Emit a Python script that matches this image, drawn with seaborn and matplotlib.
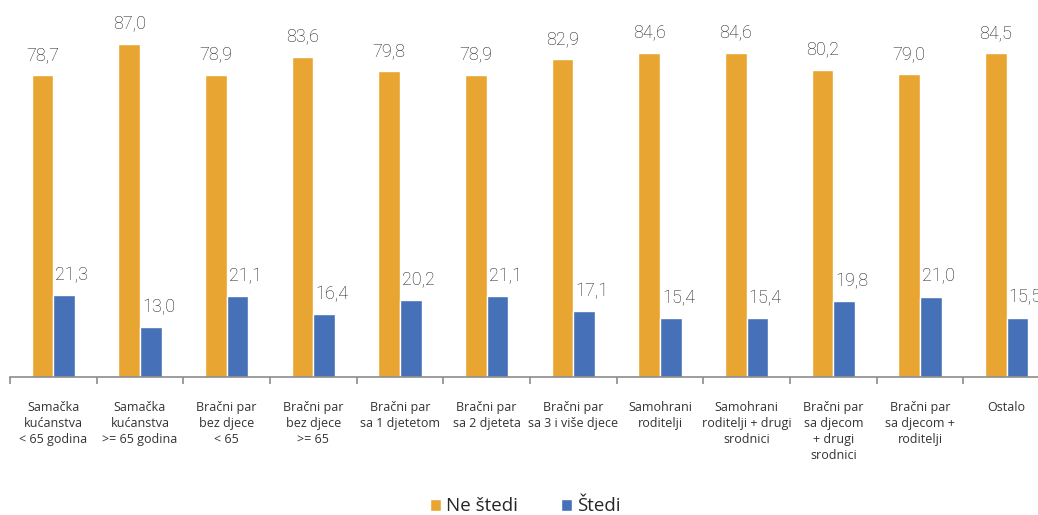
import numpy as np
import pandas as pd
import matplotlib
matplotlib.use("Agg")
import matplotlib.pyplot as plt
import seaborn as sns
from matplotlib.patches import Patch

# Data
categories = [
    "Samačka\nkućanstva\n< 65 godina",
    "Samačka\nkućanstva\n>= 65 godina",
    "Bračni par\nbez djece\n< 65",
    "Bračni par\nbez djece\n>= 65",
    "Bračni par\nsa 1 djetetom",
    "Bračni par\nsa 2 djeteta",
    "Bračni par\nsa 3 i više djece",
    "Samohrani\nroditelji",
    "Samohrani\nroditelji + drugi\nsrodnici",
    "Bračni par\nsa djecom\n+ drugi\nsrodnici",
    "Bračni par\nsa djecom +\nroditelji",
    "Ostalo",
]
ne_stedi = [78.7, 87.0, 78.9, 83.6, 79.8, 78.9, 82.9, 84.6, 84.6, 80.2, 79.0, 84.5]
stedi = [21.3, 13.0, 21.1, 16.4, 20.2, 21.1, 17.1, 15.4, 15.4, 19.8, 21.0, 15.5]
series = ["Ne štedi", "Štedi"]
colors = ["#E8A532", "#4670B8"]

df = pd.DataFrame({
    "cat": categories * 2,
    "val": ne_stedi + stedi,
    "series": [series[0]] * len(categories) + [series[1]] * len(categories),
})

sns.set_style("white")
plt.rcParams["font.family"] = ["Open Sans", "DejaVu Sans"]

fig = plt.figure(figsize=(10.38, 5.15), dpi=100)
ax = fig.add_axes([10 / 1038, 138 / 515, 1040 / 1038, 364 / 515])

sns.barplot(data=df, x="cat", y="val", hue="series", palette=colors,
            width=0.5, saturation=1, ax=ax, legend=False)

# value labels, comma decimal; the blue ones sit a bit to the right
for i, cont in enumerate(ax.containers):
    anns = ax.bar_label(cont, labels=[f"{v:.1f}".replace(".", ",") for v in cont.datavalues],
                        padding=8, fontsize=13, color="#1e1e1e", family="Roboto",
                        fontweight="light")
    if i == 1:
        for a in anns:
            a.xyann = (5.5, a.xyann[1])

ax.set_xlim(-0.5, len(categories) - 0.5)
ax.set_ylim(0, 95)
ax.set_xlabel("")
ax.set_ylabel("")
ax.set_yticks([])
for s in ["top", "right", "left"]:
    ax.spines[s].set_visible(False)
ax.spines["bottom"].set_color("#8c8c8c")
ax.spines["bottom"].set_linewidth(1.2)

ax.set_xticks(range(len(categories)))
ax.set_xticklabels(categories, fontsize=9, color="#333333", linespacing=1.3,
                   va="top")
ax.tick_params(axis="x", which="major", length=0, pad=17)
ax.set_xticks(np.arange(-0.5, len(categories), 1.0), minor=True)
ax.tick_params(axis="x", which="minor", length=5, width=1.2, color="#8c8c8c",
               direction="out", bottom=True)

handles = [Patch(facecolor=c, label=s) for c, s in zip(colors, series)]
fig.legend(handles=handles, loc="center", bbox_to_anchor=(0.506, 0.017),
           ncol=2, frameon=False, fontsize=13.5, handlelength=0.6, handleheight=0.6,
           handletextpad=0.25, columnspacing=2.3)

fig.savefig("out.png", dpi=100)
